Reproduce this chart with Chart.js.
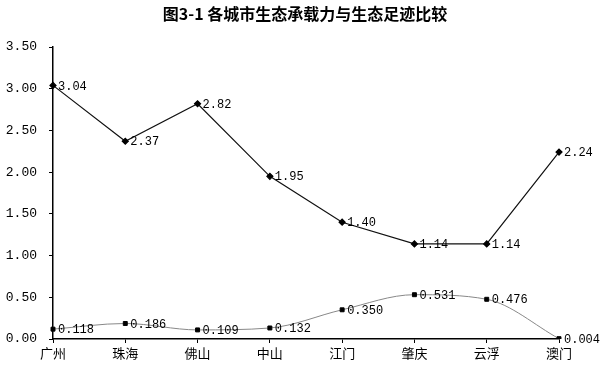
<!DOCTYPE html>
<html lang="zh">
  <head>
    <meta charset="UTF-8" />
    <title>图3-1 各城市生态承载力与生态足迹比较</title>
    <script src="https://cdn.jsdelivr.net/npm/chart.js"></script>
    <style>
      body {
        margin: 0;
        background: #fff;
      }
      #wrap {
        width: 600px;
        height: 367px;
      }
    </style>
  </head>
  <body>
    <div id="wrap"><canvas id="chart" width="600" height="367"></canvas></div>
    <script>
      const chartTitle = "图3-1 各城市生态承载力与生态足迹比较";
      const cities = ["广州", "珠海", "佛山", "中山", "江门", "肇庆", "云浮", "澳门"];
      const capacityRatio = [3.04, 2.37, 2.82, 1.95, 1.4, 1.14, 1.14, 2.24];
      const footprintRatio = [0.118, 0.186, 0.109, 0.132, 0.35, 0.531, 0.476, 0.004];
      const capacityLabels = ["3.04", "2.37", "2.82", "1.95", "1.40", "1.14", "1.14", "2.24"];
      const footprintLabels = ["0.118", "0.186", "0.109", "0.132", "0.350", "0.531", "0.476", "0.004"];

      const monoFont = "'Liberation Mono', 'DejaVu Sans Mono', monospace";
      const cjkFont = "'Noto Sans CJK SC', sans-serif";

      // title + value labels drawn on top of the chart
      const decorPlugin = {
        id: "decor",
        afterDatasetsDraw(chart) {
          const ctx = chart.ctx;
          ctx.save();
          ctx.fillStyle = "#000";
          ctx.font = "bold 16px " + cjkFont;
          ctx.textAlign = "center";
          ctx.textBaseline = "middle";
          ctx.fillText(chartTitle, 305, 14);

          ctx.font = "12px " + monoFont;
          ctx.textAlign = "left";
          const texts = [capacityLabels, footprintLabels];
          chart.data.datasets.forEach((ds, i) => {
            chart.getDatasetMeta(i).data.forEach((pt, j) => {
              ctx.fillText(texts[i][j], pt.x + 5, pt.y + 1);
            });
          });
          ctx.restore();
        },
      };

      new Chart(document.getElementById("chart"), {
        type: "line",
        data: {
          labels: cities,
          datasets: [
            {
              label: "生态承载力",
              data: capacityRatio,
              borderColor: "#111",
              borderWidth: 1.2,
              pointStyle: "rectRot",
              pointRadius: 3,
              pointBackgroundColor: "#000",
              pointBorderColor: "#000",
              tension: 0,
            },
            {
              label: "生态足迹",
              data: footprintRatio,
              borderColor: "#888",
              borderWidth: 1,
              pointStyle: "rect",
              pointRadius: 2.8,
              pointBackgroundColor: "#000",
              pointBorderColor: "#000",
              cubicInterpolationMode: "monotone",
            },
          ],
        },
        options: {
          responsive: false,
          animation: false,
          layout: { padding: { top: 47, right: 41, left: 0, bottom: 0 } },
          plugins: {
            legend: { display: false },
            tooltip: { enabled: false },
          },
          scales: {
            x: {
              offset: false,
              grid: { display: true, drawOnChartArea: false, tickLength: 4, color: "#000" },
              border: { color: "#000", width: 1.5 },
              ticks: {
                color: "#000",
                padding: 2,
                maxRotation: 0,
                font: { family: cjkFont, size: 13 },
              },
              afterFit(scale) {
                scale.height = 28;
              },
            },
            y: {
              min: 0,
              max: 3.5,
              grid: { display: true, drawOnChartArea: false, tickLength: 4, color: "#000" },
              border: { color: "#000", width: 1.5 },
              ticks: {
                stepSize: 0.5,
                color: "#000",
                padding: 12,
                font: { family: monoFont, size: 13 },
                callback: (v) => v.toFixed(2),
              },
              afterFit(scale) {
                scale.width = 53;
              },
            },
          },
        },
        plugins: [decorPlugin],
      });
    </script>
  </body>
</html>
